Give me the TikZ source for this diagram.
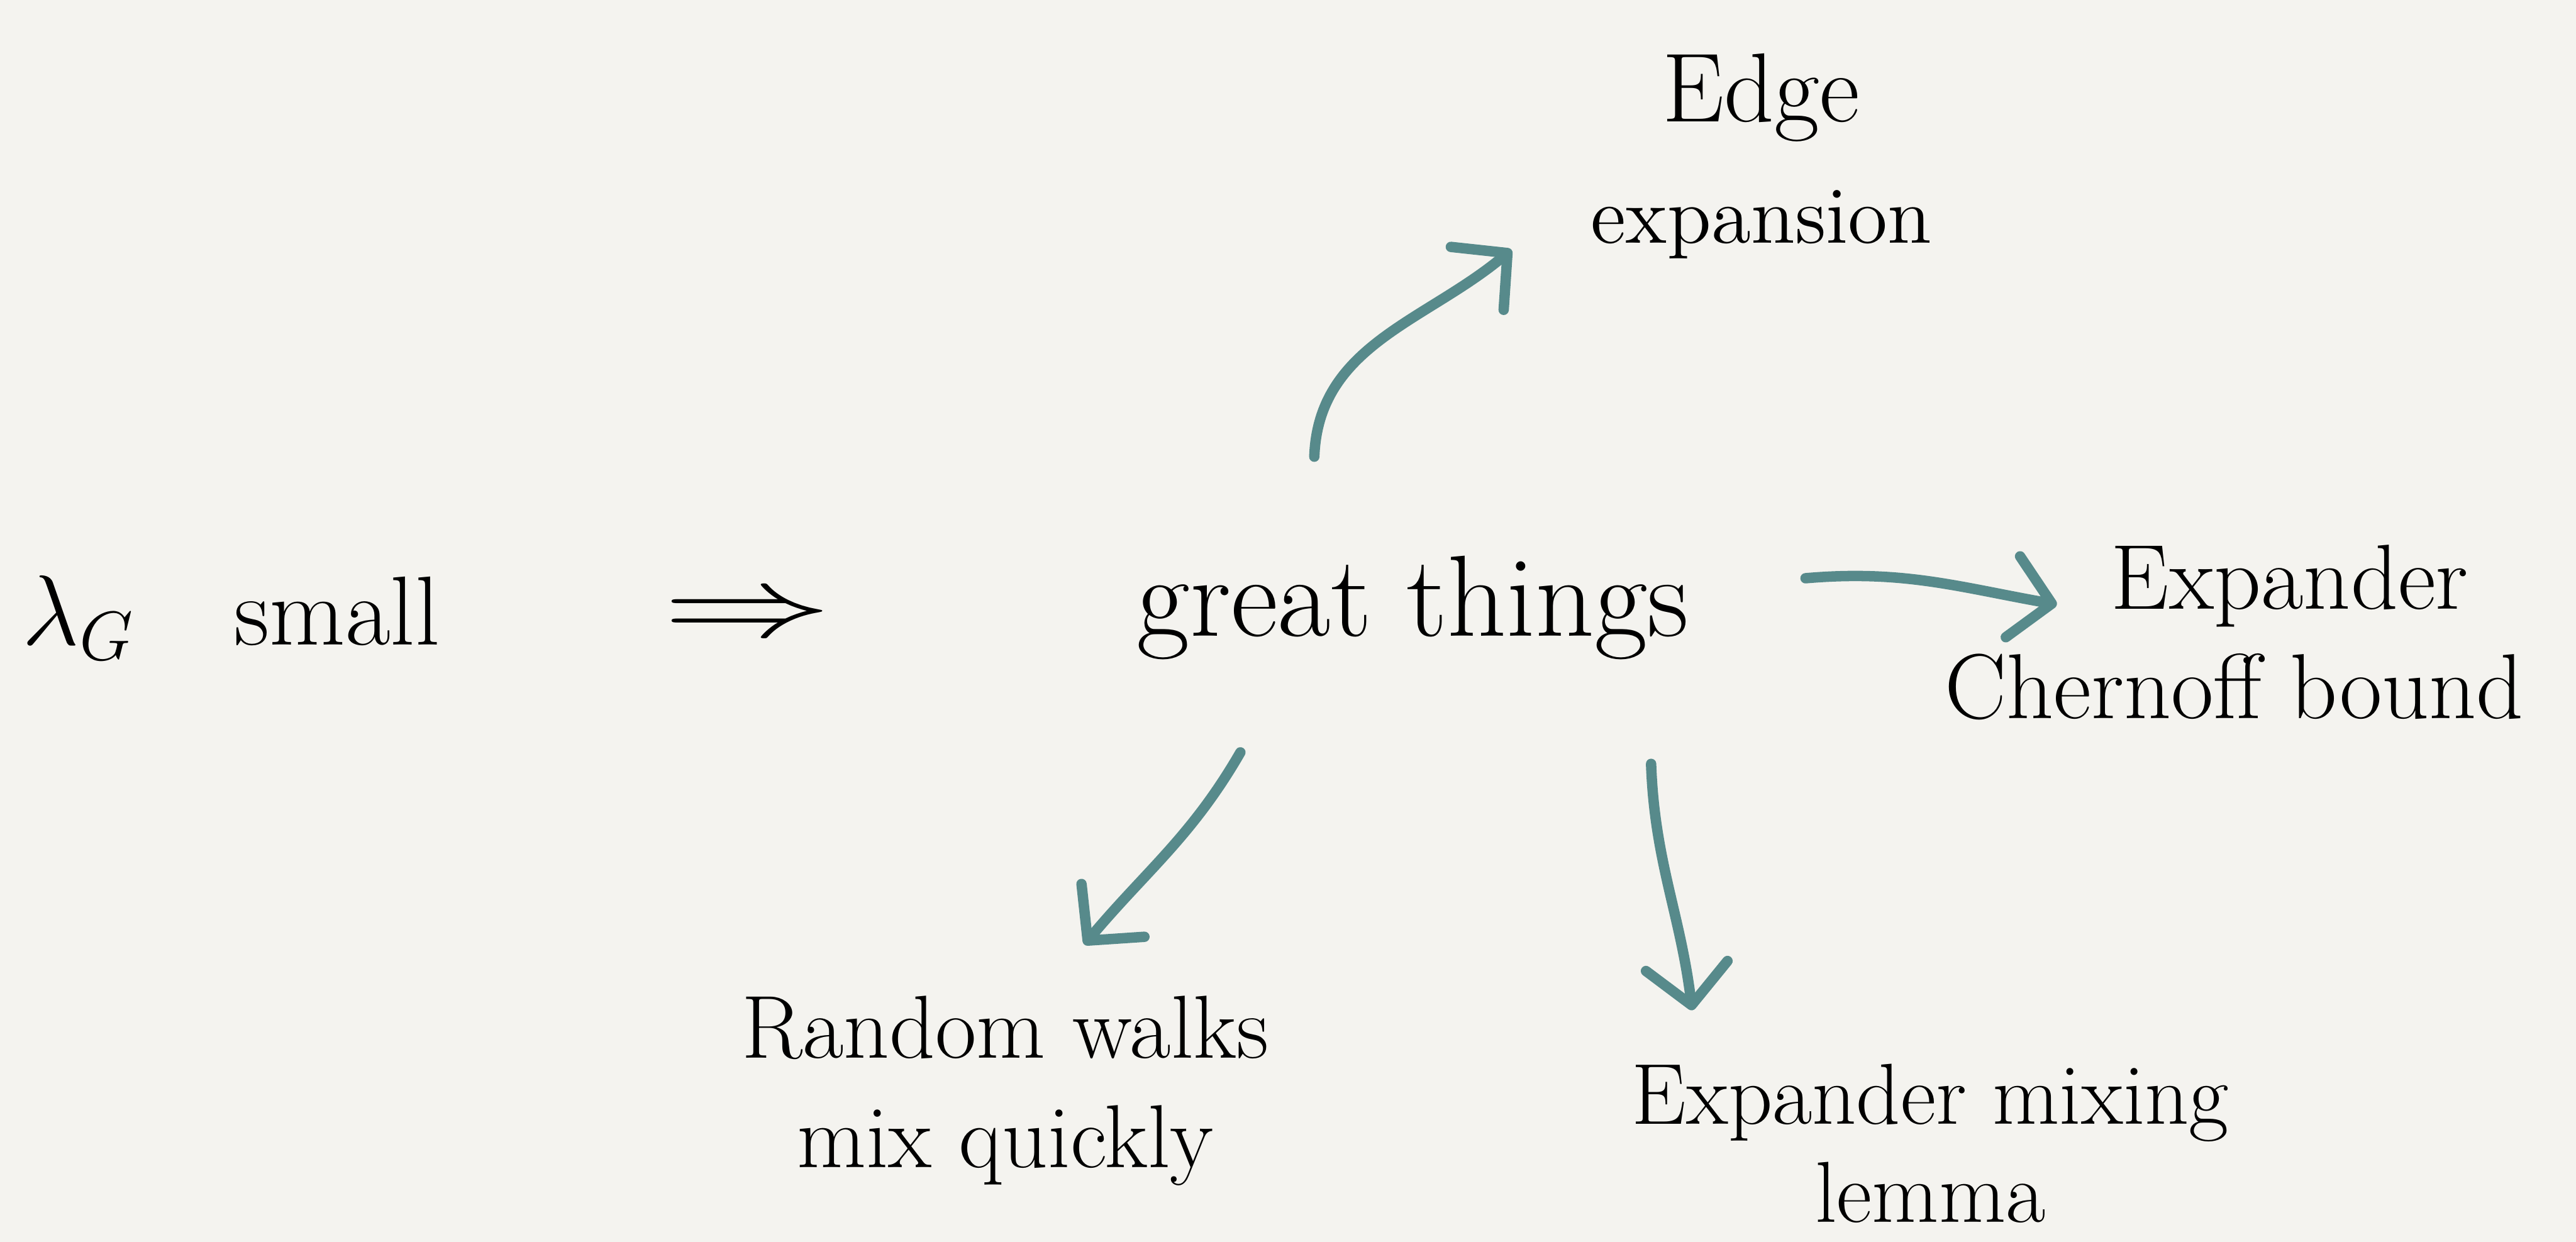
\documentclass[tikz,border=0pt]{standalone}
\usepackage{tikz}
\usetikzlibrary{arrows.meta,calc}
\definecolor{paper}{HTML}{F4F3EF}
\definecolor{teal}{HTML}{578A8B}

\begin{document}
\begin{tikzpicture}[
    lbl/.style={align=center,font=\fontsize{15.5}{19}\selectfont,inner sep=0pt},
    link/.style={teal,line width=1.8pt,line cap=round,-{Straight Barb[length=2.4mm,width=5mm,round]}}]
    \fill[paper](0,0)rectangle(15.68,7.56);
    \useasboundingbox(0,0)rectangle(15.68,7.56);

    \node[lbl,anchor=west,font=\fontsize{17}{17}\selectfont] (lamG) at(0.13,3.8){$\lambda_G$\hspace{0.6cm}small};
    \node[inner sep=0pt,font=\fontsize{17}{17}\selectfont] (imp) at(4.55,3.8){\scalebox{1.7}[1]{$\Rightarrow$}};
    \node[inner sep=0pt,font=\fontsize{20}{20}\selectfont] (great) at(8.6,3.86){great things};

    \node[lbl,font=\fontsize{14}{21}\selectfont] (edge) at(10.72,6.61){{\fontsize{17}{17}\selectfont Edge}\\expansion};
    \node[lbl,font=\fontsize{16}{19}\selectfont] (cher) at(13.6,3.71){\hspace*{1.2em}Expander\\Chernoff bound};
    \node[lbl] (rw) at(6.12,0.92){Random walks\\mix quickly};
    \node[lbl,font=\fontsize{15}{17}\selectfont] (eml) at(11.75,0.6){Expander mixing\\lemma};

    \draw[link]($(great)+(-0.6,0.92)$) to[out=88,in=220] ($(edge)+(-1.52,-0.57)$);
    \draw[link]($(great)+(2.39,0.18)$) to[out=5,in=170] ($(cher)+(-1.08,0.17)$);
    \draw[link]($(great)+(-1.05,-0.88)$) to[out=-120,in=50] ($(rw)+(0.48,0.89)$);
    \draw[link]($(great)+(1.45,-0.95)$) to[out=-88,in=97] ($(eml)+(-1.45,0.81)$);
\end{tikzpicture}
\end{document}
